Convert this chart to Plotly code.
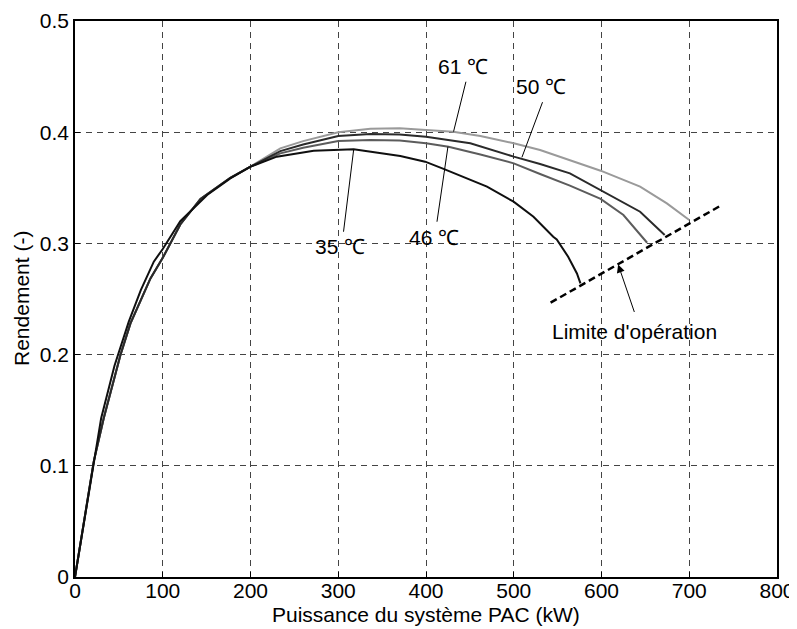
import plotly.graph_objects as go

# ---------------- data ----------------
rise_x = [0, 21.4, 32.8, 51.8, 63.2, 86, 100, 120, 143, 177, 200]
rise_y = [0, 0.104, 0.143, 0.1996, 0.228, 0.2685, 0.287, 0.317, 0.340, 0.359, 0.369]

x35 = [0, 20.7, 29.8, 45, 61.3, 75, 89.8, 100, 120, 150.6, 177, 200, 230, 272, 300, 317.6,
       370.7, 399, 420, 446.7, 469.5, 499.8, 522.5, 545, 549, 562, 572, 576]
y35 = [0, 0.1, 0.1427, 0.19, 0.2296, 0.258, 0.2836, 0.295, 0.320, 0.3435, 0.3585, 0.369, 0.378, 0.3834, 0.384, 0.3846,
       0.3786, 0.3735, 0.367, 0.3585, 0.351, 0.3375, 0.324, 0.306, 0.3035, 0.288, 0.273, 0.264]

x46 = rise_x + [234, 260, 300, 336.6, 370, 400, 425.7, 462, 500, 530, 564, 599, 625, 652]
y46 = rise_y + [0.381, 0.386, 0.392, 0.393, 0.3925, 0.390, 0.387, 0.380, 0.372, 0.3624, 0.352, 0.340, 0.3255, 0.3006]

x50 = rise_x + [234, 260, 300, 336.6, 370, 400, 450.5, 500, 511, 530, 564, 599, 644, 672]
y50 = rise_y + [0.383, 0.389, 0.3966, 0.3984, 0.398, 0.396, 0.390, 0.378, 0.3756, 0.3714, 0.363, 0.348, 0.3285, 0.3075]

x61 = rise_x + [234, 260, 300, 336.6, 370, 400, 431, 462, 500, 530, 564, 599, 644, 674.5, 700]
y61 = rise_y + [0.3855, 0.392, 0.400, 0.403, 0.4035, 0.402, 0.4005, 0.3966, 0.390, 0.384, 0.375, 0.3654, 0.351, 0.336, 0.321]

limit_x = [542, 735]
limit_y = [0.2467, 0.3336]

labels = ["61 \u2103", "50 \u2103", "46 \u2103", "35 \u2103"]
label_x = [442.5, 531, 408.7, 302.4]
label_y = [0.459, 0.441, 0.3055, 0.297]
leader_x0 = [445.5, 532.8, 412.5, 306]
leader_y0 = [0.4454, 0.427, 0.3195, 0.3105]
leader_x1 = [431.4, 509.3, 425, 317.5]
leader_y1 = [0.4005, 0.3774, 0.387, 0.384]

limit_text = "Limite d'op\u00e9ration"
limit_text_xy = (637.6, 0.2206)
arrow_tail = (638, 0.237)
arrow_tip = (619, 0.281)

x_ticks = [0, 100, 200, 300, 400, 500, 600, 700, 800]
y_ticks = [0, 0.1, 0.2, 0.3, 0.4, 0.5]
y_ticktext = ["0", "0.1", "0.2", "0.3", "0.4", "0.5"]

FONT = "Liberation Sans, Arial, Helvetica, sans-serif"
FS = 21

fig = go.Figure()

series = [
    (x61, y61, "#9a9a9a"),
    (x46, y46, "#5c5c5c"),
    (x50, y50, "#2a2a2a"),
    (x35, y35, "#0f0f0f"),
]
for xs, ys, c in series:
    fig.add_trace(go.Scatter(x=xs, y=ys, mode="lines",
                             line=dict(color=c, width=2), showlegend=False,
                             hoverinfo="skip"))

# leader lines
for i in range(len(labels)):
    fig.add_trace(go.Scatter(x=[leader_x0[i], leader_x1[i]], y=[leader_y0[i], leader_y1[i]],
                             mode="lines", line=dict(color="black", width=1),
                             showlegend=False, hoverinfo="skip"))

# operating limit
fig.add_trace(go.Scatter(x=limit_x, y=limit_y, mode="lines",
                         line=dict(color="black", width=2.5, dash="7px,4px"),
                         showlegend=False, hoverinfo="skip"))

for i, t in enumerate(labels):
    fig.add_annotation(x=label_x[i], y=label_y[i], text=t, showarrow=False,
                       xanchor="center", yanchor="middle",
                       font=dict(family=FONT, size=FS, color="black"))

fig.add_annotation(x=limit_text_xy[0], y=limit_text_xy[1], text=limit_text, showarrow=False,
                   xanchor="center", yanchor="middle",
                   font=dict(family=FONT, size=FS, color="black"))

fig.add_annotation(x=arrow_tip[0], y=arrow_tip[1], ax=arrow_tail[0], ay=arrow_tail[1],
                   axref="x", ayref="y", xref="x", yref="y", text="",
                   showarrow=True, arrowhead=2, arrowsize=1.6, arrowwidth=1,
                   arrowcolor="black")

# axis titles as annotations for precise placement
fig.add_annotation(xref="paper", yref="paper", x=0.5, y=0, yshift=-37,
                   text="Puissance du syst\u00e8me PAC (kW)", showarrow=False,
                   xanchor="center", yanchor="middle",
                   font=dict(family=FONT, size=FS, color="black"))
fig.add_annotation(xref="paper", yref="paper", x=0, y=0.5, xshift=-54,
                   text="Rendement (-)", showarrow=False, textangle=-90,
                   xanchor="center", yanchor="middle",
                   font=dict(family=FONT, size=FS, color="black"))

axis_common = dict(
    showline=True, linecolor="black", linewidth=1.5, mirror=True,
    showgrid=True, gridcolor="#444444", gridwidth=1, griddash="6px,5px",
    zeroline=False, ticks="inside", ticklen=5, tickcolor="black",
    tickfont=dict(family=FONT, size=FS, color="black"),
    automargin=False,
)

fig.update_xaxes(range=[0, 800], tickvals=x_ticks, ticktext=[str(v) for v in x_ticks],
                 ticklabelstandoff=-6, **axis_common)
fig.update_yaxes(range=[0, 0.5], tickvals=y_ticks, ticktext=y_ticktext,
                 **axis_common)

# page body has an 8px default margin; margins compensate for it
fig.update_layout(width=797, height=629,
                  margin=dict(l=67, r=28, t=13, b=60),
                  paper_bgcolor="white", plot_bgcolor="white",
                  showlegend=False)

fig.write_html("out.html")
